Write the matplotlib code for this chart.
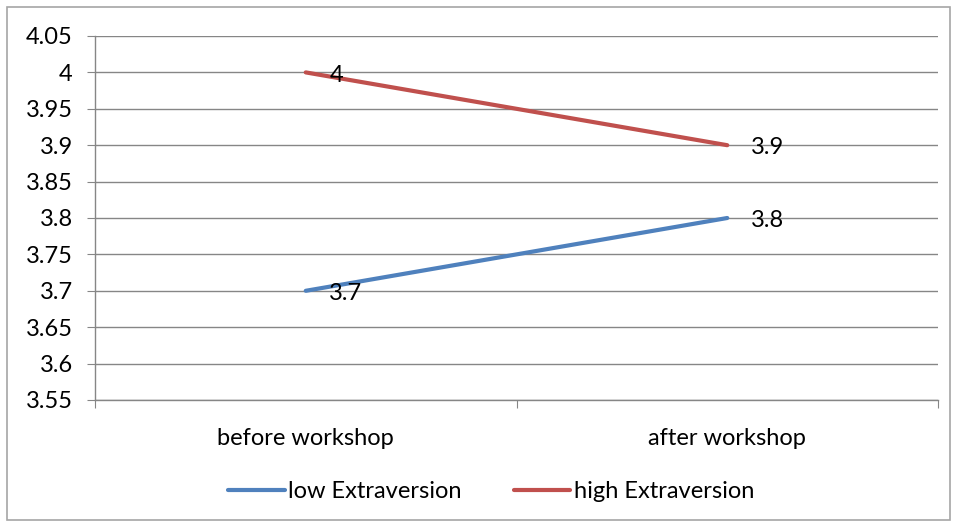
import matplotlib.pyplot as plt
from matplotlib.patches import Rectangle

categories = ["before workshop", "after workshop"]
low_extraversion = [3.7, 3.8]
high_extraversion = [4.0, 3.9]
y_ticks = [3.55, 3.6, 3.65, 3.7, 3.75, 3.8, 3.85, 3.9, 3.95, 4.0, 4.05]
y_labels = ["3.55", "3.6", "3.65", "3.7", "3.75", "3.8", "3.85", "3.9", "3.95", "4", "4.05"]

plt.rcParams['font.family'] = ['Lato', 'DejaVu Sans']
fs = 17

fig = plt.figure(figsize=(9.58, 5.27), dpi=100)
ax = fig.add_axes([95 / 958, 1 - 400 / 527, (938 - 95) / 958, (400 - 36) / 527])

# chart area border
fig.patches.append(Rectangle((7 / 958, 7 / 527), 943 / 958, 513 / 527,
                             transform=fig.transFigure, fill=False,
                             edgecolor='#A6A6A6', linewidth=1.2))

x = list(range(len(categories)))
ax.plot(x, low_extraversion, color='#4F81BD', linewidth=3, solid_capstyle='round',
        label='low Extraversion')
ax.plot(x, high_extraversion, color='#C0504D', linewidth=3, solid_capstyle='round',
        label='high Extraversion')

# data labels to the right of each point
for series in (low_extraversion, high_extraversion):
    for xi, v in zip(x, series):
        ax.annotate(f"{v:g}", (xi, v), xytext=(17, -2), textcoords='offset points',
                    va='center', ha='left', fontsize=fs)

ax.set_xlim(-0.5, 1.5)
ax.set_ylim(3.55, 4.05)
ax.set_yticks(y_ticks)
ax.set_yticklabels(y_labels, fontsize=fs)
ax.set_xticks([-0.5, 0.5, 1.5])
ax.set_xticklabels([])
ax.set_xticks(x, minor=True)
ax.set_xticklabels(categories, minor=True, fontsize=fs)
ax.tick_params(axis='x', which='minor', length=0, pad=20)
ax.tick_params(axis='x', which='major', length=6, color='#868686')
ax.tick_params(axis='y', length=6, color='#868686', pad=10)

ax.grid(axis='y', color='#868686', linewidth=1)
ax.set_axisbelow(True)
for side in ('top', 'right'):
    ax.spines[side].set_visible(False)
for side in ('left', 'bottom'):
    ax.spines[side].set_color('#868686')
    ax.spines[side].set_linewidth(1)

fig.legend(loc='center', bbox_to_anchor=(491 / 958, 1 - 492 / 527), ncol=2,
           frameon=False, fontsize=fs, handlelength=2.4, handletextpad=0.15,
           columnspacing=2.2)

fig.savefig('out.png', dpi=100)
